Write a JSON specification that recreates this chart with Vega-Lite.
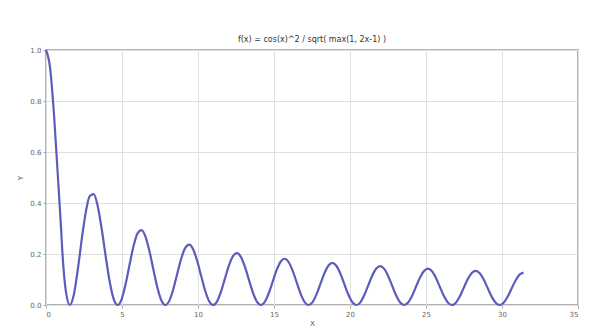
{
  "$schema": "https://vega.github.io/schema/vega-lite/v6.json",
  "autosize": {"type": "none"},
  "width": 532,
  "height": 255,
  "padding": {"left": 46, "top": 50, "right": 35, "bottom": 30},
  "background": "white",
  "title": {"text": "f(x) = cos(x)^2 / sqrt( max(1, 2x-1) )", "fontSize": 8, "font": "DejaVu Sans", "fontWeight": "normal", "color": "#333", "offset": 2},
  "config": {
    "view": {"stroke": "#999", "strokeWidth": 1.5},
    "axis": {"gridColor": "#e0e0e0", "gridWidth": 1, "domain": false, "labelFont": "DejaVu Sans", "labelFontSize": 7, "labelColor": "#666", "titleFont": "DejaVu Sans", "titleFontSize": 7, "titleFontWeight": "normal", "titleColor": "#555", "tickColor": "#aaa", "tickSize": 3}
  },
  "data": {"values": [
    {"x":0,"y":1},{"x":0.2618,"y":0.933},{"x":0.5236,"y":0.75},{"x":0.7854,"y":0.5},{"x":1.0,"y":0.2919},
    {"x":1.0472,"y":0.239},{"x":1.309,"y":0.0527},{"x":1.5708,"y":0},{"x":1.8326,"y":0.041},{"x":2.0944,"y":0.14},
    {"x":2.3562,"y":0.2595},{"x":2.618,"y":0.3644},{"x":2.8798,"y":0.4277},{"x":3.1416,"y":0.4351},{"x":3.4034,"y":0.3872},
    {"x":3.6652,"y":0.2981},{"x":3.927,"y":0.191},{"x":4.1888,"y":0.092},{"x":4.4506,"y":0.0238},{"x":4.7124,"y":0},
    {"x":4.9742,"y":0.0224},{"x":5.236,"y":0.0812},{"x":5.4978,"y":0.1581},{"x":5.7596,"y":0.2312},{"x":6.0214,"y":0.2808},
    {"x":6.2832,"y":0.294},{"x":6.545,"y":0.2683},{"x":6.8068,"y":0.2112},{"x":7.0686,"y":0.138},{"x":7.3304,"y":0.0676},
    {"x":7.5922,"y":0.0178},{"x":7.854,"y":0},{"x":8.1158,"y":0.0172},{"x":8.3776,"y":0.063},{"x":8.6394,"y":0.1239},
    {"x":8.9012,"y":0.183},{"x":9.163,"y":0.2241},{"x":9.4248,"y":0.2367},{"x":9.6866,"y":0.2177},{"x":9.9484,"y":0.1725},
    {"x":10.2102,"y":0.1135},{"x":10.472,"y":0.056},{"x":10.7338,"y":0.0148},{"x":10.9956,"y":0},{"x":11.2574,"y":0.0144},
    {"x":11.5192,"y":0.0533},{"x":11.781,"y":0.1053},{"x":12.0428,"y":0.1561},{"x":12.3046,"y":0.192},{"x":12.5664,"y":0.2036},
    {"x":12.8282,"y":0.1879},{"x":13.09,"y":0.1495},{"x":13.3518,"y":0.0986},{"x":13.6136,"y":0.0488},{"x":13.8754,"y":0.013},
    {"x":14.1372,"y":0},{"x":14.399,"y":0.0127},{"x":14.6608,"y":0.047},{"x":14.9226,"y":0.0931},{"x":15.1844,"y":0.1384},
    {"x":15.4462,"y":0.1706},{"x":15.708,"y":0.1813},{"x":15.9698,"y":0.1677},{"x":16.2316,"y":0.1337},{"x":16.4934,"y":0.0884},
    {"x":16.7552,"y":0.0438},{"x":17.017,"y":0.0117},{"x":17.2788,"y":0},{"x":17.5406,"y":0.0115},{"x":17.8024,"y":0.0425},
    {"x":18.0642,"y":0.0844},{"x":18.326,"y":0.1256},{"x":18.5878,"y":0.1551},{"x":18.8496,"y":0.1651},{"x":19.1114,"y":0.1529},
    {"x":19.3732,"y":0.1221},{"x":19.635,"y":0.0808},{"x":19.8968,"y":0.0401},{"x":20.1586,"y":0.0107},{"x":20.4204,"y":0},
    {"x":20.6822,"y":0.0105},{"x":20.944,"y":0.0391},{"x":21.2058,"y":0.0777},{"x":21.4676,"y":0.1158},{"x":21.7294,"y":0.1432},
    {"x":21.9911,"y":0.1525},{"x":22.2529,"y":0.1415},{"x":22.5147,"y":0.113},{"x":22.7765,"y":0.0749},{"x":23.0383,"y":0.0372},
    {"x":23.3001,"y":0.0099},{"x":23.5619,"y":0},{"x":23.8237,"y":0.0098},{"x":24.0855,"y":0.0364},{"x":24.3473,"y":0.0724},
    {"x":24.6091,"y":0.108},{"x":24.8709,"y":0.1336},{"x":25.1327,"y":0.1425},{"x":25.3945,"y":0.1322},{"x":25.6563,"y":0.1057},
    {"x":25.9181,"y":0.0701},{"x":26.1799,"y":0.0349},{"x":26.4417,"y":0.0093},{"x":26.7035,"y":0},{"x":26.9653,"y":0.0092},
    {"x":27.2271,"y":0.0342},{"x":27.4889,"y":0.0681},{"x":27.7507,"y":0.1016},{"x":28.0125,"y":0.1258},{"x":28.2743,"y":0.1342},
    {"x":28.5361,"y":0.1246},{"x":28.7979,"y":0.0997},{"x":29.0597,"y":0.0662},{"x":29.3215,"y":0.0329},{"x":29.5833,"y":0.0088},
    {"x":29.8451,"y":0},{"x":30.1069,"y":0.0087},{"x":30.3687,"y":0.0323},{"x":30.6305,"y":0.0644},{"x":30.8923,"y":0.0962},
    {"x":31.1541,"y":0.1192},{"x":31.4159,"y":0.1272}
  ]},
  "mark": {"type": "line", "interpolate": "monotone", "color": "#5c5cbc", "strokeWidth": 2.2},
  "encoding": {
    "x": {"field": "x", "type": "quantitative", "scale": {"domain": [0, 35], "nice": false}, "axis": {"values": [0,5,10,15,20,25,30,35], "title": "X", "titlePadding": 2}},
    "y": {"field": "y", "type": "quantitative", "scale": {"domain": [0, 1], "nice": false}, "axis": {"values": [0,0.2,0.4,0.6,0.8,1.0], "format": ".1f", "title": "Y", "titlePadding": 6}}
  }
}
